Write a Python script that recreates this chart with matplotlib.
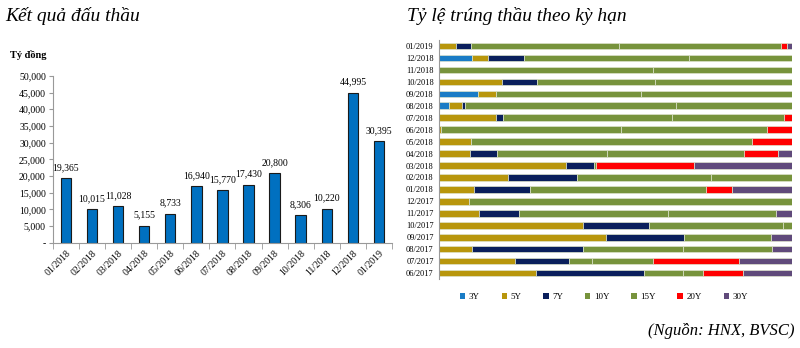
import matplotlib.pyplot as plt
from matplotlib.patches import Patch
import numpy as np

plt.rcParams['font.family'] = ['Liberation Serif', 'DejaVu Serif']

# ket qua dau thau (ty dong)
months = ['01/2018', '02/2018', '03/2018', '04/2018', '05/2018', '06/2018', '07/2018',
          '08/2018', '09/2018', '10/2018', '11/2018', '12/2018', '01/2019']
volume = [19365, 10015, 11028, 5155, 8733, 16940, 15770, 17430, 20800, 8306, 10220, 44995, 30395]

# ty le trung thau theo ky han (%), top row first
periods = ['01/2019', '12/2018', '11/2018', '10/2018', '09/2018', '08/2018', '07/2018',
           '06/2018', '05/2018', '04/2018', '03/2018', '02/2018', '01/2018', '12/2017',
           '11/2017', '10/2017', '09/2017', '08/2017', '07/2017', '06/2017']
terms = ['3Y', '5Y', '7Y', '10Y', '15Y', '20Y', '30Y']
share_3y = [0, 9.3, 0, 0, 11.0, 2.7, 0, 0, 0, 0, 0, 0, 0, 0, 0, 0, 0, 0, 0, 0]
share_5y = [4.7, 4.5, 0, 17.7, 5.2, 3.8, 16.0, 0.6, 8.9, 8.7, 35.8, 19.5, 9.8, 8.4, 11.4, 40.7, 47.3, 9.4, 21.6, 27.5]
share_7y = [4.4, 10.1, 0, 10.1, 0, 0.7, 2.1, 0, 0, 7.8, 8.1, 19.5, 15.8, 0, 11.1, 18.7, 22.1, 31.4, 15.3, 30.5]
share_10y = [41.8, 47.0, 60.6, 33.5, 40.9, 60.0, 47.8, 50.8, 79.8, 31.1, 0.5, 38.0, 49.9, 91.6, 42.4, 38.1, 24.6, 28.4, 6.4, 11.0]
share_15y = [46.0, 29.1, 39.4, 38.7, 42.9, 32.8, 31.9, 41.6, 0, 38.8, 0, 23.1, 0, 0, 30.7, 2.5, 0, 25.2, 17.3, 5.8]
share_20y = [1.7, 0, 0, 0, 0, 0, 2.1, 7.0, 11.3, 9.7, 27.9, 0, 7.6, 0, 0, 0, 0, 0, 24.5, 11.4]
share_30y = [1.3, 0, 0, 0, 0, 0, 0.2, 0, 0, 3.9, 27.8, 0, 16.9, 0, 4.3, 0, 6.0, 5.6, 14.9, 13.9]

term_colors = ['#1a7cc6', '#b8960c', '#0a1f5c', '#77933c', '#77933c', '#ff0000', '#604a7b']

fig = plt.figure(figsize=(8, 3.48), dpi=100)

# ---- left: bar chart
ax1 = fig.add_axes([0.066, 0.302, 0.424, 0.48])
x = np.arange(len(months))
ax1.bar(x, volume, width=0.4, color='#0070c0', edgecolor='#1a1a1a', linewidth=0.8)
for xi, v in zip(x, volume):
    ax1.text(xi, v + 1800, f'{v:,}', ha='center', va='bottom', fontsize=7)
ax1.set_xlim(-0.5, len(months) - 0.5)
ax1.set_ylim(0, 50000)
yt = np.arange(0, 50001, 5000)
ax1.set_yticks(yt)
ax1.set_yticklabels(['-'] + [f'{t:,}' for t in yt[1:]], fontsize=7)
ax1.set_xticks(x)
ax1.set_xticklabels(months, rotation=45, ha='right', rotation_mode='anchor', fontsize=7)
ax1.tick_params(axis='x', length=0, pad=4)
ax1.set_xticks(np.arange(-0.5, len(months)), minor=True)
ax1.tick_params(axis='x', which='minor', length=4, color='#999999')
ax1.tick_params(axis='y', length=3, color='#999999', pad=2)
for s in ['top', 'right']:
    ax1.spines[s].set_visible(False)
for s in ['left', 'bottom']:
    ax1.spines[s].set_color('#999999')

fig.text(0.006, 0.955, 'Kết quả đấu thầu', fontsize=14, style='italic', va='center')
fig.text(0.013, 0.842, 'Tỷ đồng', fontsize=7.5, fontweight='bold', va='center')

# ---- right: stacked horizontal bars
ax2 = fig.add_axes([0.549, 0.198, 0.441, 0.687])
y = np.arange(len(periods))
left = np.zeros(len(periods))
shares = [share_3y, share_5y, share_7y, share_10y, share_15y, share_20y, share_30y]
for name, vals, col in zip(terms, shares, term_colors):
    vals = np.array(vals)
    ax2.barh(y, vals, left=left, height=0.55, color=col, edgecolor='#dde3cc',
             linewidth=0.5, label=name)
    left += vals
ax2.set_ylim(len(periods) - 0.5, -0.5)
ax2.set_xlim(0, 100)
ax2.set_yticks(y)
ax2.set_yticklabels(periods, fontsize=6)
ax2.tick_params(axis='y', length=0, pad=4)
ax2.set_xticks([])
for s in ['top', 'right', 'bottom']:
    ax2.spines[s].set_visible(False)
ax2.spines['left'].set_color('#999999')

fig.text(0.509, 0.955, 'Tỷ lệ trúng thầu theo kỳ hạn', fontsize=14, style='italic', va='center')

handles = [Patch(facecolor=c, label=t) for t, c in zip(terms, term_colors)]
fig.legend(handles=handles, loc='center', bbox_to_anchor=(0.755, 0.147), ncol=7,
           frameon=False, fontsize=6.5, handlelength=0.6, handleheight=0.6,
           handletextpad=0.4, columnspacing=2.4)

fig.text(0.993, 0.05, '(Nguồn: HNX, BVSC)', fontsize=12, style='italic',
         ha='right', va='center')

fig.savefig('out.png', dpi=100)
